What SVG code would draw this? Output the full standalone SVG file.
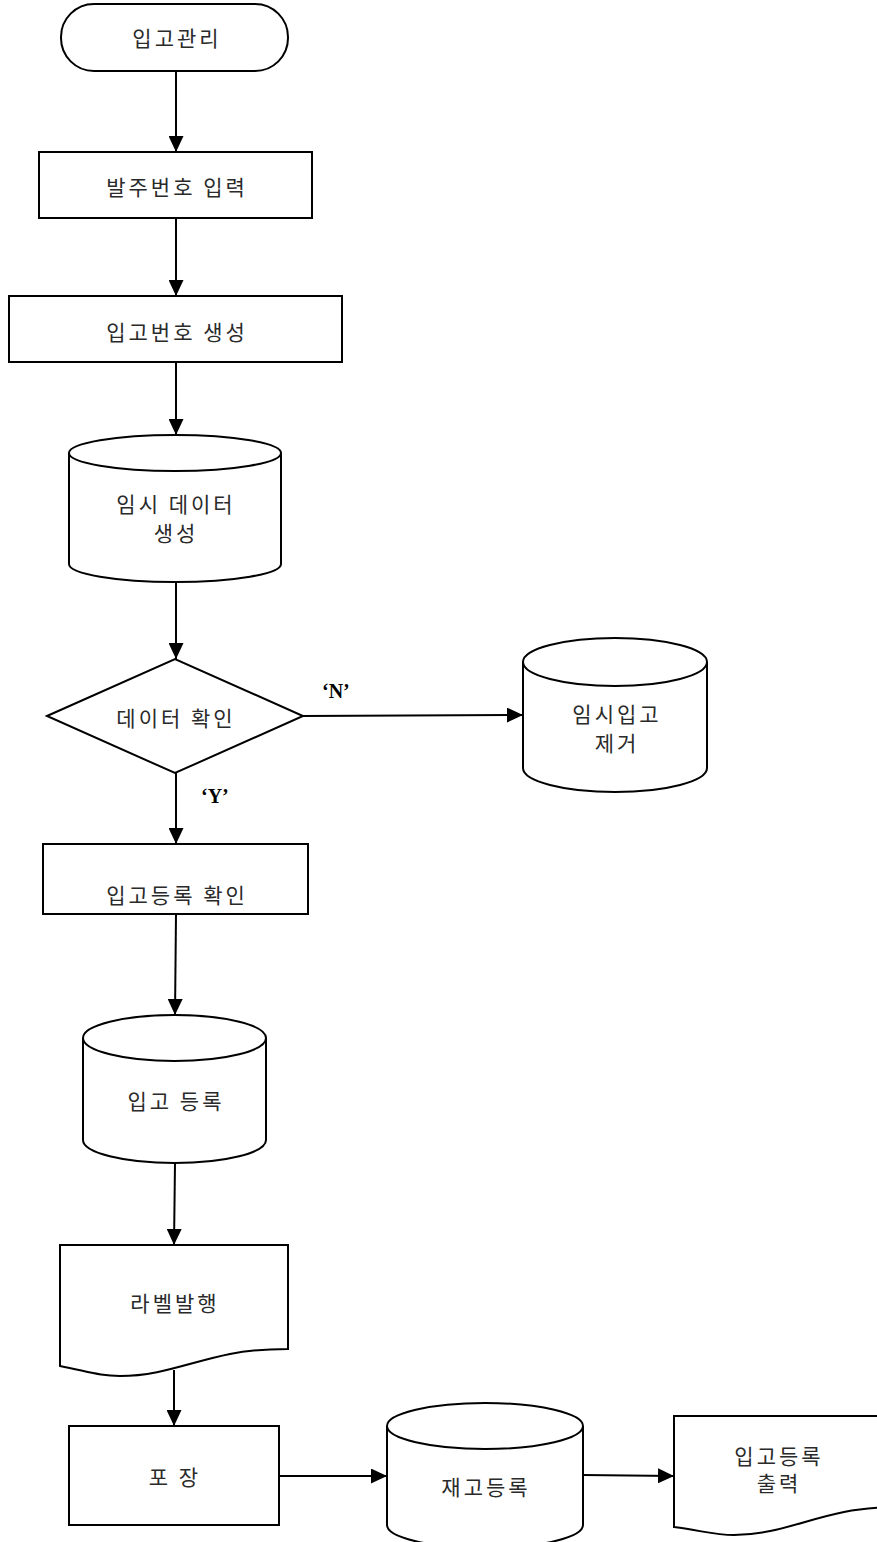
<svg xmlns="http://www.w3.org/2000/svg" width="877" height="1542" viewBox="0 0 877 1542">
<defs>
<marker id="arr" viewBox="0 0 16 15" refX="16" refY="7.5" markerWidth="16" markerHeight="15" markerUnits="userSpaceOnUse" orient="auto">
<path d="M0,0 L16,7.5 L0,15 Z" fill="#000"/>
</marker>
<style>
.s{fill:#fff;stroke:#000;stroke-width:2}
.t{font-family:"Noto Sans CJK KR","Noto Sans",sans-serif;font-size:21px;fill:#2a2a2a;text-anchor:middle;dominant-baseline:central;letter-spacing:3px}
.c{fill:none;stroke:#000;stroke-width:2;marker-end:url(#arr)}
.l{font-family:"Liberation Serif",serif;font-size:20px;font-weight:bold;fill:#000}
</style>
</defs>
<rect width="877" height="1542" fill="#fff"/>
<g id="connectors">
<line class="c" x1="176" y1="71" x2="176" y2="152"/>
<line class="c" x1="176" y1="218" x2="176" y2="296"/>
<line class="c" x1="176" y1="362" x2="176" y2="435"/>
<line class="c" x1="176" y1="582" x2="176" y2="659"/>
<line class="c" x1="303" y1="716" x2="523" y2="715"/>
<line class="c" x1="176" y1="773" x2="176" y2="844"/>
<line class="c" x1="176" y1="914" x2="175" y2="1015"/>
<line class="c" x1="175" y1="1163" x2="174" y2="1245"/>
<line class="c" x1="174" y1="1370" x2="174" y2="1426"/>
<line class="c" x1="279" y1="1476" x2="387" y2="1476"/>
<line class="c" x1="583" y1="1475" x2="674" y2="1476"/>
<text class="l" x="322" y="698">‘N’</text>
<text class="l" x="201" y="803">‘Y’</text>
</g>
<g id="start">
<rect class="s" x="61" y="4" width="227" height="67" rx="33" ry="33"/>
<text class="t" x="177" y="37">입고관리</text>
</g>
<g id="order-input">
<rect class="s" x="39" y="152" width="273" height="66"/>
<text class="t" x="177" y="186">발주번호 입력</text>
</g>
<g id="receipt-no">
<rect class="s" x="9" y="296" width="333" height="66"/>
<text class="t" x="177" y="331">입고번호 생성</text>
</g>
<g id="temp-data">
<path class="s" d="M69,453 A106,18 0 0 1 281,453 V564 A106,18 0 0 1 69,564 Z"/>
<path class="s" fill="none" d="M69,453 A106,18 0 0 0 281,453"/>
<text class="t" x="176" y="503">임시 데이터</text>
<text class="t" x="176" y="532">생성</text>
</g>
<g id="check">
<polygon class="s" points="47,716 175,659 303,716 175,773"/>
<text class="t" x="176" y="717">데이터 확인</text>
</g>
<g id="temp-remove">
<path class="s" d="M523,662 A92,24 0 0 1 707,662 V768 A92,24 0 0 1 523,768 Z"/>
<path class="s" d="M523,662 A92,24 0 0 0 707,662"/>
<text class="t" x="617" y="713">임시입고</text>
<text class="t" x="617" y="742">제거</text>
</g>
<g id="confirm">
<rect class="s" x="43" y="844" width="265" height="70"/>
<text class="t" x="177" y="894">입고등록 확인</text>
</g>
<g id="register">
<path class="s" d="M83,1038 A91.5,23 0 0 1 266,1038 V1140 A91.5,23 0 0 1 83,1140 Z"/>
<path class="s" d="M83,1038 A91.5,23 0 0 0 266,1038"/>
<text class="t" x="176" y="1100">입고 등록</text>
</g>
<g id="label">
<path class="s" d="M60,1245 H288 V1349 C270,1349 250,1350 230,1354 C190,1362 160,1376 120,1376 C100,1376 90,1372 60,1366 Z"/>
<text class="t" x="175" y="1302">라벨발행</text>
</g>
<g id="pack">
<rect class="s" x="69" y="1426" width="210" height="99"/>
<text class="t" x="175" y="1476">포 장</text>
</g>
<g id="stock">
<path class="s" d="M387,1426 A98,23 0 0 1 583,1426 V1525 A98,23 0 0 1 387,1525 Z"/>
<path class="s" d="M387,1426 A98,23 0 0 0 583,1426"/>
<text class="t" x="486" y="1486">재고등록</text>
</g>
<g id="print">
<path class="s" d="M674,1416 H902 V1507 C884,1507 864,1508 844,1512 C804,1520 774,1535 734,1535 C714,1535 704,1531 674,1527 Z"/>
<text class="t" x="779" y="1455">입고등록</text>
<text class="t" x="779" y="1482">출력</text>
</g>
</svg>
